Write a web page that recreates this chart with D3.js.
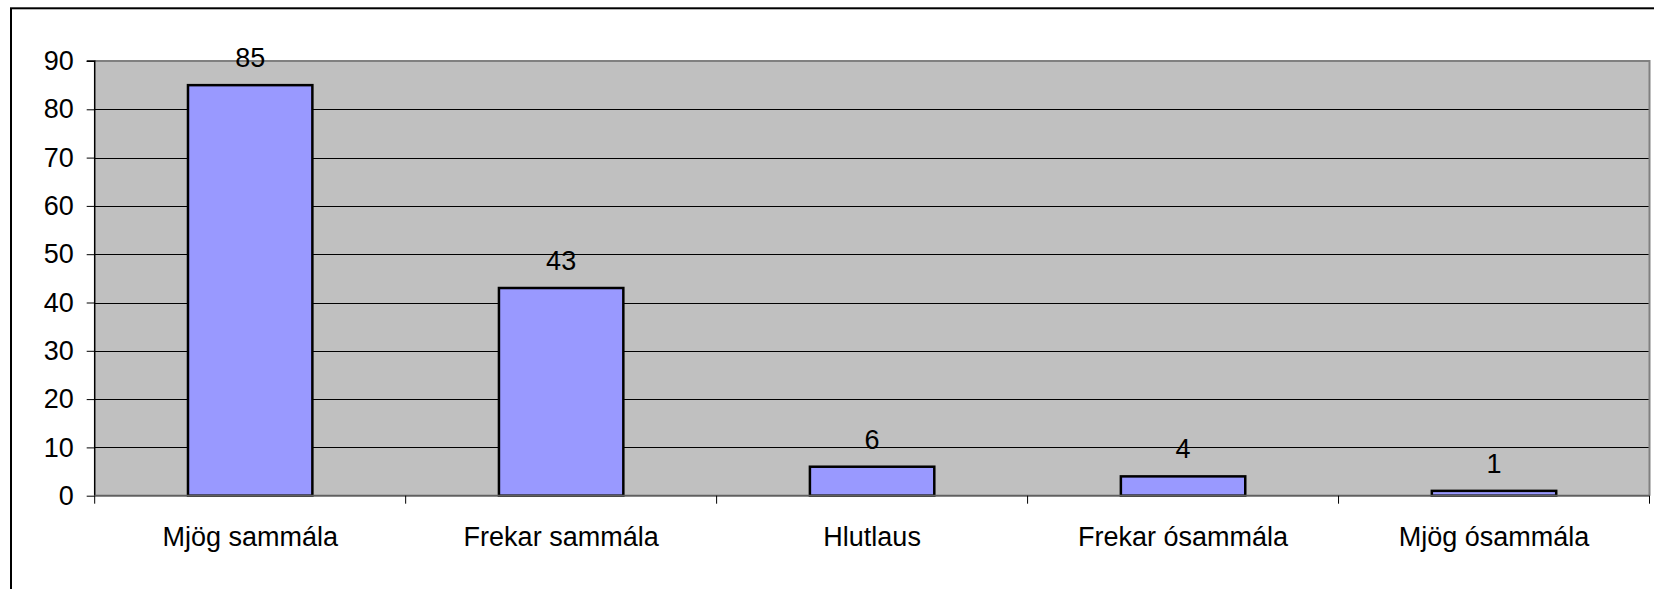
<!DOCTYPE html>
<html>
<head>
<meta charset="utf-8">
<script src="https://cdn.jsdelivr.net/npm/d3@7"></script>
<style>
  html, body { margin: 0; padding: 0; background: #fff; }
  svg { display: block; }
  text { font-family: "Liberation Sans", Arial, sans-serif; fill: #000; }
</style>
</head>
<body>
<svg id="chart" width="1654" height="589"></svg>
<script>
const categories = ["Mjög sammála", "Frekar sammála", "Hlutlaus", "Frekar ósammála", "Mjög ósammála"];
const values = [85, 43, 6, 4, 1];
const yTicks = [0, 10, 20, 30, 40, 50, 60, 70, 80, 90];

const W = 1654, H = 589;
const plot = { left: 94.7, right: 1649.5, top: 61, bottom: 495.7 };
const fontSize = 27;

const svg = d3.select("#chart");

// outer chart border (cropped at right/bottom)
svg.append("rect")
  .attr("x", 11).attr("y", 8.3)
  .attr("width", W + 20).attr("height", H + 20)
  .attr("fill", "#fff").attr("stroke", "#000").attr("stroke-width", 2);

const x = d3.scaleBand().domain(categories).range([plot.left, plot.right]).paddingInner(0).paddingOuter(0);
const y = d3.scaleLinear().domain([0, 90]).range([plot.bottom, plot.top]);

// plot background
svg.append("rect")
  .attr("x", plot.left).attr("y", plot.top)
  .attr("width", plot.right - plot.left).attr("height", plot.bottom - plot.top)
  .attr("fill", "#C0C0C0");

// gridlines
svg.append("g").selectAll("line").data(yTicks.filter(d => d > 0 && d < 90)).join("line")
  .attr("x1", plot.left).attr("x2", plot.right)
  .attr("y1", d => Math.round(y(d)) + 0.5).attr("y2", d => Math.round(y(d)) + 0.5)
  .attr("stroke", "#000").attr("stroke-width", 1);

// plot border top/right (grey)
svg.append("path")
  .attr("d", `M${plot.left},${plot.top} H${plot.right} V${plot.bottom}`)
  .attr("fill", "none").attr("stroke", "#808080").attr("stroke-width", 2);

// bars
const barW = x.bandwidth() * 0.4;
svg.append("g").selectAll("rect").data(values).join("rect")
  .attr("x", (d, i) => x(categories[i]) + (x.bandwidth() - barW) / 2)
  .attr("y", d => y(d))
  .attr("width", barW)
  .attr("height", d => y(0) - y(d))
  .attr("fill", "#9999FF").attr("stroke", "#000").attr("stroke-width", 2.5);

// value labels
svg.append("g").selectAll("text").data(values).join("text")
  .attr("x", (d, i) => x(categories[i]) + x.bandwidth() / 2)
  .attr("y", d => y(d) - 18)
  .attr("text-anchor", "middle")
  .attr("font-size", fontSize)
  .text(d => d);

// y axis
const yAxis = d3.axisLeft(y).tickValues(yTicks).tickSize(8).tickPadding(13).tickFormat(d3.format("d"));
const gy = svg.append("g").attr("transform", `translate(${plot.left},0)`).call(yAxis);
gy.select(".domain").attr("stroke", "#000").attr("stroke-width", 1.5)
  .attr("d", `M-8,${plot.top}H0V${plot.bottom}`);
gy.selectAll(".tick line").attr("stroke", "#000").attr("stroke-width", 1);
gy.selectAll(".tick text").attr("font-size", fontSize).attr("font-family", "Liberation Sans, Arial, sans-serif")
  .attr("fill", "#000");

// x axis
const xAxis = d3.axisBottom(x).tickSize(0).tickPadding(0);
const gx = svg.append("g").attr("transform", `translate(0,${plot.bottom})`).call(xAxis);
gx.select(".domain").attr("stroke", "#606060").attr("stroke-width", 2)
  .attr("d", `M${plot.left},0H${plot.right}`);
gx.selectAll(".tick text").attr("font-size", fontSize).attr("font-family", "Liberation Sans, Arial, sans-serif")
  .attr("fill", "#000").attr("dy", null).attr("y", 50.5);
// boundary tick marks between categories
const bounds = categories.map(c => x(c)).concat([plot.right]);
gx.append("g").selectAll("line").data(bounds).join("line")
  .attr("x1", d => d).attr("x2", d => d).attr("y1", 0).attr("y2", 8)
  .attr("stroke", "#000").attr("stroke-width", 1);
</script>
</body>
</html>
